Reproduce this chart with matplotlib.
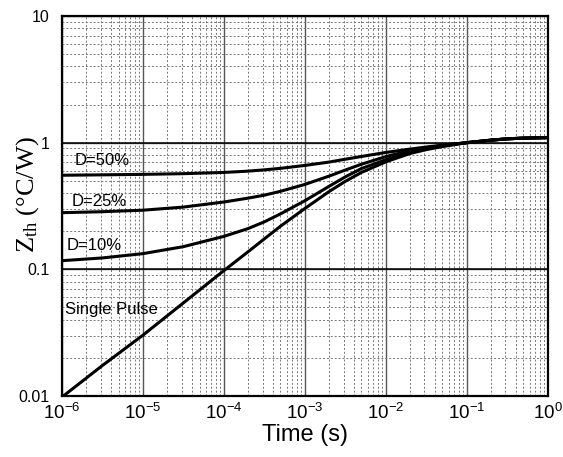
import matplotlib
matplotlib.use("Agg")
import matplotlib.pyplot as plt
from matplotlib.ticker import FixedLocator, LogLocator, NullFormatter

plt.rcParams["font.family"] = ["Liberation Sans", "DejaVu Sans"]
plt.rcParams["mathtext.default"] = "regular"

time_s = [1e-6, 3.16e-6, 1e-5, 3.16e-5, 1e-4, 2e-4, 3.16e-4, 5e-4,
          1e-3, 2e-3, 3.16e-3, 5e-3, 1e-2, 2e-2, 3.16e-2, 5e-2,
          1e-1, 2e-1, 3.16e-1, 5e-1, 1.0]

tail = [1.0, 1.047, 1.072, 1.086, 1.096]

d50 = [0.553, 0.557, 0.562, 0.569, 0.582, 0.596, 0.610, 0.627,
       0.661, 0.703, 0.740, 0.778, 0.837, 0.890, 0.924, 0.954] + tail
d25 = [0.280, 0.285, 0.293, 0.310, 0.340, 0.365, 0.385, 0.413,
       0.468, 0.545, 0.608, 0.676, 0.776, 0.867, 0.912, 0.951] + tail
d10 = [0.117, 0.123, 0.133, 0.151, 0.182, 0.210, 0.237, 0.274,
       0.348, 0.453, 0.537, 0.625, 0.733, 0.841, 0.897, 0.944] + tail
single = [0.0098, 0.0174, 0.0302, 0.0543, 0.0977, 0.138, 0.174, 0.219,
          0.302, 0.412, 0.495, 0.582, 0.706, 0.822, 0.881, 0.931] + tail

x_ticks = [1e-6, 1e-5, 1e-4, 1e-3, 1e-2, 1e-1, 1.0]
x_labels = [r"$10^{-6}$", r"$10^{-5}$", r"$10^{-4}$", r"$10^{-3}$",
            r"$10^{-2}$", r"$10^{-1}$", r"$10^{0}$"]
y_ticks = [0.01, 0.1, 1, 10]
y_labels = ["0.01", "0.1", "1", "10"]

fig = plt.figure(figsize=(5.63, 4.57), dpi=100)
ax = fig.add_axes([0.110, 0.1335, 0.863, 0.8315])
ax.set_xscale("log")
ax.set_yscale("log")
ax.set_xlim(1e-6, 1)
ax.set_ylim(0.01, 10)

ax.xaxis.set_major_locator(FixedLocator(x_ticks))
ax.set_xticklabels(x_labels, fontsize=13.5)
ax.yaxis.set_major_locator(FixedLocator(y_ticks))
ax.set_yticklabels(y_labels, fontsize=11.5)
for axis in (ax.xaxis, ax.yaxis):
    axis.set_minor_locator(LogLocator(base=10, subs=range(2, 10), numticks=20))
    axis.set_minor_formatter(NullFormatter())
ax.tick_params(which="both", length=0)
ax.tick_params(axis="x", pad=5)
ax.tick_params(axis="y", pad=9)

ax.grid(True, which="major", color="#555555", linewidth=1.0, linestyle="-")
ax.grid(True, which="minor", color="#777777", linewidth=0.7, linestyle=(0, (2, 2)))
ax.axhline(1, color="black", linewidth=1.1)
ax.axhline(0.1, color="black", linewidth=1.1)
ax.set_axisbelow(True)

for s in ax.spines.values():
    s.set_linewidth(1.6)
    s.set_color("black")

for ys in (d50, d25, d10, single):
    ax.plot(time_s, ys, color="black", linewidth=2.2,
            solid_joinstyle="round", solid_capstyle="butt")

ax.text(1.45e-6, 0.72, "D=50%", fontsize=12, va="center")
ax.text(1.3e-6, 0.345, "D=25%", fontsize=12, va="center")
ax.text(1.15e-6, 0.155, "D=10%", fontsize=12, va="center")
ax.text(1.08e-6, 0.048, "Single Pulse", fontsize=12, va="center")

ax.set_xlabel("Time (s)", fontsize=17, labelpad=1)
ax.set_ylabel(r"$Z_{th}$ (°C/W)", fontsize=19, family=["Liberation Serif"])
ax.yaxis.set_label_coords(-0.044, 0.53)

fig.savefig("out.png", dpi=100)
